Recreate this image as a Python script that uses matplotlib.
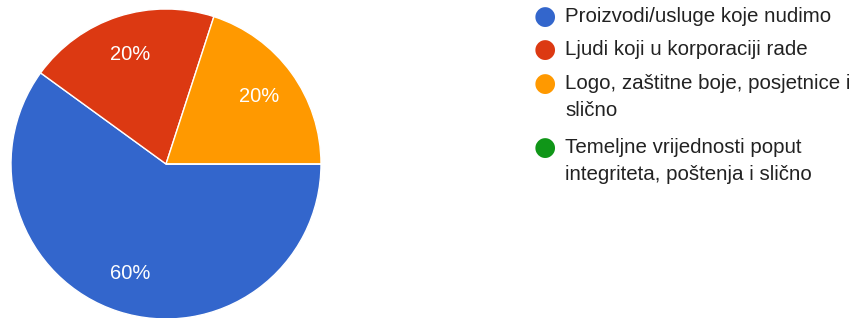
import matplotlib.pyplot as plt

labels = ["Proizvodi/usluge koje nudimo",
          "Ljudi koji u korporaciji rade",
          "Logo, zaštitne boje, posjetnice i\nslično",
          "Temeljne vrijednosti poput\nintegriteta, poštenja i slično"]
values = [60, 20, 20, 0]
colors = ["#3366cc", "#dc3912", "#ff9900", "#109618"]

W, H = 865, 318
fig = plt.figure(figsize=(W / 100, H / 100), dpi=100)

# pie axes, centre ~(166,164) px, radius ~155 px
cx, cy, r = 166, 164, 155
ax = fig.add_axes([(cx - r) / W, (H - cy - r) / H, 2 * r / W, 2 * r / H])
wedges, texts, autotexts = ax.pie(
    values, colors=colors, startangle=0, counterclock=False,
    autopct=lambda p: "%d%%" % round(p) if p > 0 else "",
    pctdistance=0.74, wedgeprops=dict(edgecolor="white", linewidth=1),
    textprops=dict(color="white", fontsize=14.5, family="Liberation Sans"))
ax.set_xlim(-1, 1)
ax.set_ylim(-1, 1)
ax.set_aspect("equal")
for w in wedges:
    w.set_clip_on(False)

# legend
first_y = [17, 50, 84, 148]
for lab, col, y in zip(labels, colors, first_y):
    fig.text(545 / W, 1 - y / H, "\u25cf", color=col, fontsize=18.5,
             ha="center", va="center", family="DejaVu Sans")
    fig.text(565 / W, 1 - (y - 10) / H, lab, color="#222222", fontsize=14.8,
             ha="left", va="top", family="Liberation Sans", linespacing=1.55)

fig.savefig("out.png", dpi=100)
